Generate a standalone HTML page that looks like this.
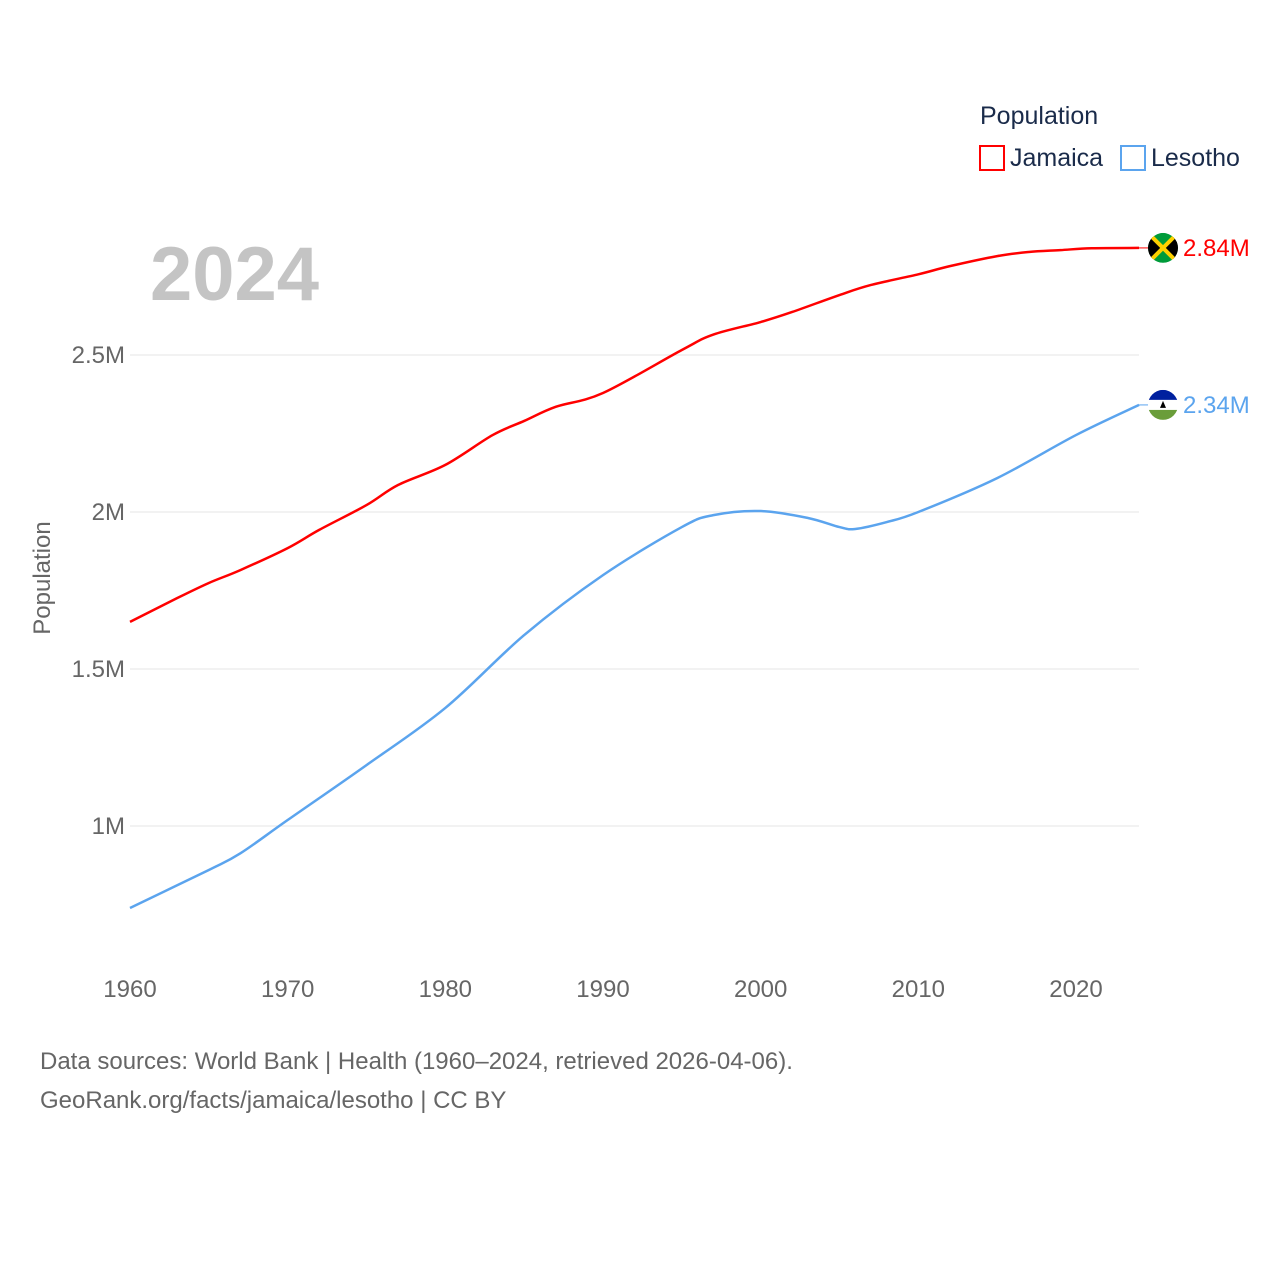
<!DOCTYPE html>
<html><head><meta charset="utf-8">
<style>
body{margin:0;background:#fff;font-family:"Liberation Sans",sans-serif;}
svg text{font-family:"Liberation Sans",sans-serif;}
</style></head>
<body>
<svg width="1280" height="1280">
<defs><clipPath id="cj"><circle cx="1163" cy="248" r="15"/></clipPath><clipPath id="cl"><circle cx="1163" cy="405" r="15"/></clipPath></defs>
<text x="980" y="124" font-size="25" fill="#1a2b4a">Population</text>
<g><rect x="980" y="146" width="24" height="24" fill="none" stroke="#ff0000" stroke-width="2"/><text x="1010" y="166" font-size="25" fill="#1a2b4a">Jamaica</text></g>
<g><rect x="1121" y="146" width="24" height="24" fill="none" stroke="#5ba4ee" stroke-width="2"/><text x="1151" y="166" font-size="25" fill="#1a2b4a">Lesotho</text></g>
<text x="150" y="300" font-size="76" font-weight="bold" fill="#c4c4c4">2024</text>
<text transform="translate(50,578) rotate(-90)" text-anchor="middle" font-size="24" fill="#666">Population</text>
<g id="grid"></g><g id="lines"></g>
<text x="40" y="1069" font-size="24" fill="#666">Data sources: World Bank | Health (1960–2024, retrieved 2026-04-06).</text>
<text x="40" y="1108" font-size="24" fill="#666">GeoRank.org/facts/jamaica/lesotho | CC BY</text>
</svg>
<script>
const jamYears=[1960,1963,1965,1967,1970,1972,1975,1977,1980,1983,1985,1987,1990,1995,1997,2000,2002,2005,2007,2010,2012,2015,2017,2019,2021,2024];
const jamValues=[1.650,1.726,1.774,1.815,1.885,1.943,2.022,2.086,2.150,2.245,2.290,2.335,2.379,2.516,2.565,2.605,2.637,2.691,2.723,2.757,2.783,2.815,2.828,2.834,2.840,2.841];
const lesYears=[1960,1965,1967,1970,1975,1980,1985,1990,1995,1997,2000,2003,2005,2006,2008,2010,2015,2020,2024];
const lesValues=[0.739,0.860,0.913,1.019,1.194,1.376,1.608,1.799,1.952,1.990,2.003,1.981,1.952,1.946,1.968,2.000,2.108,2.245,2.341];
const yTicks=[1,1.5,2,2.5];
const yTickLabels=["1M","1.5M","2M","2.5M"];
const xTicks=[1960,1970,1980,1990,2000,2010,2020];
const ns="http://www.w3.org/2000/svg";
const xS=y=>130+(y-1960)*946/60;
const yS=v=>826-(v-1)*314;
const grid=document.getElementById('grid'),lines=document.getElementById('lines');
function mk(t,a,p){const e=document.createElementNS(ns,t);for(const k in a)e.setAttribute(k,a[k]);p.appendChild(e);return e;}
yTicks.forEach((v,i)=>{
 const l=mk('line',{x1:130,x2:1139,y1:yS(v),y2:yS(v),stroke:'#e6e6e6','stroke-width':1},grid);
 
 
 const t=mk('text',{x:125,y:yS(v)+8,'text-anchor':'end','font-size':24,fill:'#666'},grid);
 t.textContent=yTickLabels[i];
 
 
});
xTicks.forEach(y=>{
 const t=mk('text',{x:xS(y),y:997,'text-anchor':'middle','font-size':24,fill:'#666'},grid);
 t.textContent=y;
 
 
});
function smooth(pts){
 let d='M'+pts[0][0]+','+pts[0][1];
 for(let i=0;i<pts.length-1;i++){
  const p0=pts[Math.max(0,i-1)],p1=pts[i],p2=pts[i+1],p3=pts[Math.min(pts.length-1,i+2)];
  const c1=[p1[0]+(p2[0]-p0[0])/6,p1[1]+(p2[1]-p0[1])/6],c2=[p2[0]-(p3[0]-p1[0])/6,p2[1]-(p3[1]-p1[1])/6];
  d+=` C${c1[0]},${c1[1]} ${c2[0]},${c2[1]} ${p2[0]},${p2[1]}`;
 }
 return d;
}
function series(ys,vs,col,name,fmt){
 const pts=ys.map((y,i)=>[xS(y),yS(vs[i])]);
 const p=mk('path',{d:smooth(pts),fill:'none',stroke:col,'stroke-width':2.5,'stroke-linejoin':'round'},lines);
 
 
 const lx=xS(ys[ys.length-1]),ly=yS(vs[vs.length-1]);
 mk('line',{x1:lx,x2:lx+10,y1:ly,y2:ly,stroke:col,'stroke-width':1},lines);
 const lab=mk('text',{x:1183,y:ly+8,'font-size':24,fill:col},lines);
 lab.textContent=fmt;
 
 
 return ly;
}
const jy=series(jamYears,jamValues,'#ff0000','jamaica',jamValues[jamValues.length-1].toFixed(2)+'M');
const ly=series(lesYears,lesValues,'#5ba4ee','lesotho',lesValues[lesValues.length-1].toFixed(2)+'M');
document.querySelector('#cj circle').setAttribute('cy',jy);
document.querySelector('#cl circle').setAttribute('cy',ly);
const fj=mk('g',{'clip-path':'url(#cj)'},lines);


mk('circle',{cx:1163,cy:jy,r:15,fill:'#009b3a'},fj);
mk('path',{d:`M1148,${jy-15} L1163,${jy} L1148,${jy+15} Z M1178,${jy-15} L1163,${jy} L1178,${jy+15} Z`,fill:'#000'},fj);
mk('path',{d:`M1148,${jy-15} L1178,${jy+15} M1178,${jy-15} L1148,${jy+15}`,stroke:'#fed100','stroke-width':4},fj);
const fl=mk('g',{'clip-path':'url(#cl)'},lines);


mk('rect',{x:1148,y:ly-15,width:30,height:10,fill:'#00209f'},fl);
mk('rect',{x:1148,y:ly-5,width:30,height:10,fill:'#fff'},fl);
mk('rect',{x:1148,y:ly+5,width:30,height:10,fill:'#6a9d3a'},fl);
mk('path',{d:`M1160,${ly+3} L1163,${ly-4} L1166,${ly+3} Z`,fill:'#000'},fl);
</script>
</body></html>
